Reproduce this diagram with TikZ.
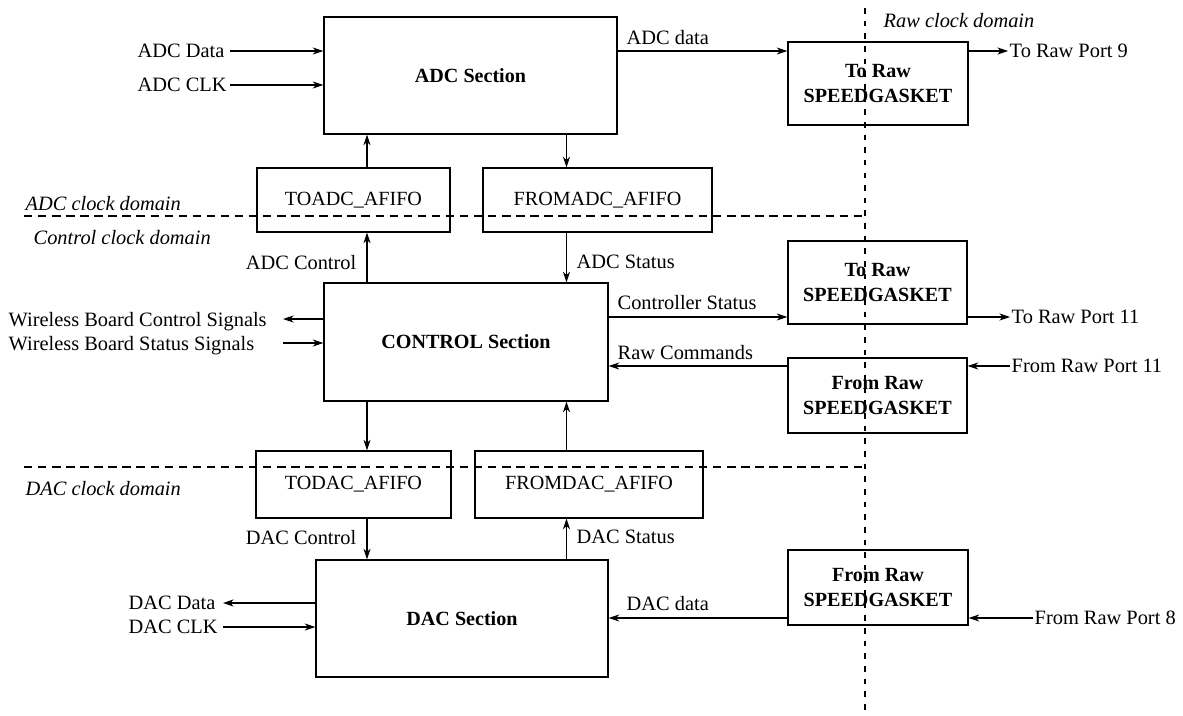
\documentclass[tikz,border=0pt]{standalone}
\usepackage{fontspec}
\setmainfont{Liberation Serif}
\usetikzlibrary{arrows.meta}
\newcommand{\lblfont}{\fontsize{14.5}{17}\selectfont}
\newcommand{\boxfont}{\fontsize{14.3}{17.8}\selectfont}

\begin{document}
\begin{tikzpicture}[x=0.025cm, y=-0.025cm, >={Stealth[length=7.5pt, width=5pt, inset=2.2pt]},
  blk/.style={draw, line width=0.9pt, inner sep=0pt, font=\boxfont, align=center},
  sec/.style={blk, font=\boxfont\bfseries},
  lbl/.style={inner sep=1pt, text depth=0pt, font=\lblfont},
  dom/.style={lbl, font=\lblfont\itshape},
  sig/.style={->, line width=0.75pt},
  domline/.style={line width=0.75pt, dash pattern=on 6pt off 4pt}]
\useasboundingbox (0,0) rectangle (1183,716);

\node[sec, minimum width=7.325cm, minimum height=2.925cm] (adc) at (470.5,75.5) {ADC Section};
\node[blk, minimum width=4.825cm, minimum height=1.6cm] (toadc) at (353.5,200) {TOADC\_AFIFO};
\node[blk, minimum width=5.725cm, minimum height=1.6cm] (fromadc) at (597.5,200) {FROMADC\_AFIFO};
\node[sec, minimum width=7.1cm, minimum height=2.95cm] (ctrl) at (466,342) {CONTROL Section};
\node[blk, minimum width=4.875cm, minimum height=1.675cm] (todac) at (353.5,484.5) {TODAC\_AFIFO};
\node[blk, minimum width=5.7cm, minimum height=1.675cm] (fromdac) at (589,484.5) {FROMDAC\_AFIFO};
\node[sec, minimum width=7.3cm, minimum height=2.925cm] (dac) at (462,618.5) {DAC Section};
\node[sec, minimum width=4.5cm, minimum height=2.075cm] (toraw9) at (878,83.5) {To Raw\\SPEEDGASKET};
\node[sec, minimum width=4.475cm, minimum height=2.075cm] (toraw11) at (877.5,282.5) {To Raw\\SPEEDGASKET};
\node[sec, minimum width=4.475cm, minimum height=1.875cm] (fromraw11) at (877.5,395.5) {From Raw\\SPEEDGASKET};
\node[sec, minimum width=4.5cm, minimum height=1.875cm] (fromraw8) at (878,587.5) {From Raw\\SPEEDGASKET};

\node[lbl, anchor=west] (adcdin) at (136,51) {ADC Data};
\node[lbl, anchor=west] (adcclkin) at (136,85) {ADC CLK};
\node[lbl, anchor=west] (adcdout) at (625,37) {ADC data};
\node[lbl, anchor=west] (port9) at (1008,51) {To Raw Port 9};
\node[dom, anchor=west] (rawdom) at (882,20) {Raw clock domain};
\node[dom, anchor=west] (adcdom) at (24,203) {ADC clock domain};
\node[dom, anchor=west] (ctrldom) at (32,237) {Control clock domain};
\node[lbl, anchor=east] (adcctl) at (358,262) {ADC Control};
\node[lbl, anchor=west] (adcst) at (575,262) {ADC Status};
\node[lbl, anchor=west] (wbctl) at (7,319) {Wireless Board Control Signals};
\node[lbl, anchor=west] (wbst) at (7,343) {Wireless Board Status Signals};
\node[lbl, anchor=west] (ctlst) at (616,302) {Controller Status};
\node[lbl, anchor=west] (rawcmd) at (616,352) {Raw Commands};
\node[lbl, anchor=west] (port11o) at (1010,317) {To Raw Port 11};
\node[lbl, anchor=west] (port11i) at (1010,366) {From Raw Port 11};
\node[dom, anchor=west] (dacdom) at (24,488) {DAC clock domain};
\node[lbl, anchor=east] (dacctl) at (358,537) {DAC Control};
\node[lbl, anchor=west] (dacst) at (575,537) {DAC Status};
\node[lbl, anchor=west] (dacdout) at (127,603) {DAC Data};
\node[lbl, anchor=west] (dacclkin) at (127,627) {DAC CLK};
\node[lbl, anchor=west] (dacdin) at (625,603) {DAC data};
\node[lbl, anchor=west] (port8) at (1033,618) {From Raw Port 8};

\coordinate (lx) at (367,0);
\coordinate (rx) at (566.5,0);
\coordinate (ax) at (230,0);
\coordinate (wbx) at (283,0);
\coordinate (dx) at (223,0);

\draw[sig] (adcdin -| ax) -- (adcdin -| adc.west);
\draw[sig] (adcclkin -| ax) -- (adcclkin -| adc.west);
\draw[sig] (adc.east |- adcdin) -- (toraw9.west |- adcdin);
\draw[sig] (toraw9.east |- port9) -- (port9.west);
\draw[sig] (toadc.north -| lx) -- (adc.south -| lx);
\draw[sig] (adc.south -| rx) -- (fromadc.north -| rx);
\draw[sig] (ctrl.north -| lx) -- (toadc.south -| lx);
\draw[sig] (fromadc.south -| rx) -- (ctrl.north -| rx);
\draw[sig] (ctrl.west |- wbctl) -- (wbctl -| wbx);
\draw[sig] (wbst -| wbx) -- (ctrl.west |- wbst);
\draw[sig] (ctrl.east |- port11o) -- (toraw11.west |- port11o);
\draw[sig] (toraw11.east |- port11o) -- (port11o.west);
\draw[sig] (port11i.west) -- (fromraw11.east |- port11i);
\draw[sig] (fromraw11.west |- port11i) -- (ctrl.east |- port11i);
\draw[sig] (ctrl.south -| lx) -- (todac.north -| lx);
\draw[sig] (fromdac.north -| rx) -- (ctrl.south -| rx);
\draw[sig] (todac.south -| lx) -- (dac.north -| lx);
\draw[sig] (dac.north -| rx) -- (fromdac.south -| rx);
\draw[sig] (dac.west |- dacdout) -- (dacdout -| dx);
\draw[sig] (dacclkin -| dx) -- (dac.west |- dacclkin);
\draw[sig] (fromraw8.west |- port8) -- (dac.east |- port8);
\draw[sig] (port8.west) -- (fromraw8.east |- port8);

\draw[domline] (24,216) -- (862,216);
\draw[domline] (24,467) -- (864,467);
\draw[domline, dash pattern=on 4pt off 5pt] (865,8) -- (865,716);
\end{tikzpicture}
\end{document}
